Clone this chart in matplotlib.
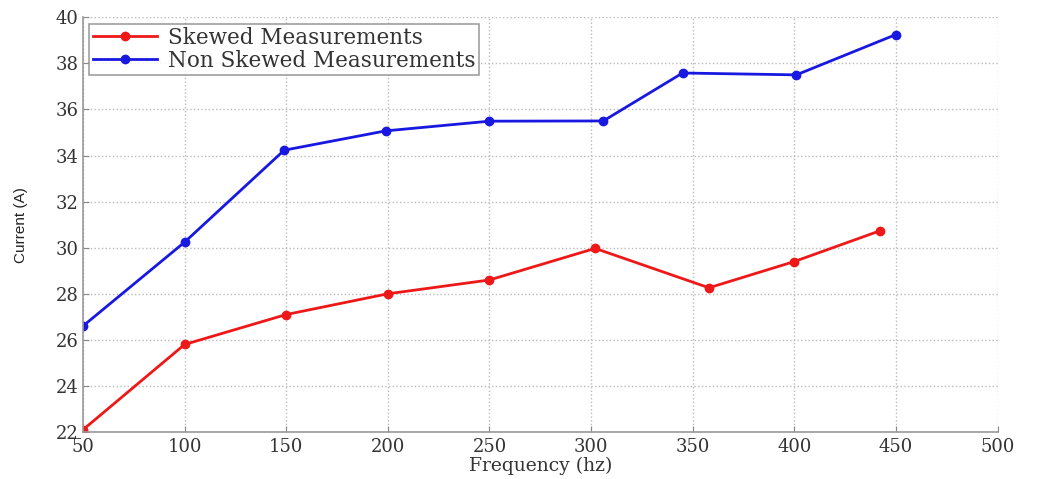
import matplotlib
matplotlib.use('Agg')
import matplotlib.pyplot as plt

# Frequency sweep (hz) and measured current (A)
freq_skewed = [50, 100, 150, 200, 250, 302, 358, 400, 442]
current_skewed = [22.1, 25.8, 27.1, 28.0, 28.6, 29.97, 28.26, 29.4, 30.73]

freq_nonskewed = [50, 100, 149, 199, 250, 306, 345, 401, 450]
current_nonskewed = [26.6, 30.24, 34.23, 35.07, 35.49, 35.5, 37.58, 37.5, 39.25]

plt.rcParams['font.family'] = ['DejaVu Serif']

fig = plt.figure(figsize=(10.37, 4.79), dpi=100)
ax = fig.add_axes([0.080, 0.098, 0.882, 0.866])

ax.plot(freq_skewed, current_skewed, color='#ee1818', lw=2, marker='o', ms=6,
        label='Skewed Measurements')
ax.plot(freq_nonskewed, current_nonskewed, color='#1818e0', lw=2, marker='o', ms=6,
        label='Non Skewed Measurements')

ax.set_xlim(50, 500)
ax.set_ylim(22, 40)
ax.set_xticks(range(50, 501, 50))
ax.set_yticks(range(22, 41, 2))
ax.tick_params(labelsize=13, direction='in', length=4, color='#888888',
               labelcolor='#333333')
ax.tick_params(axis='x', pad=4)
ax.tick_params(axis='y', pad=3)

ax.grid(True, linestyle=':', color='#bbbbbb', lw=1)
for s in ax.spines.values():
    s.set_color('#999999')
    s.set_linewidth(1.2)
ax.spines['top'].set_visible(False)
ax.spines['right'].set_visible(False)

ax.set_xlabel('Frequency (hz)', fontsize=13.5, color='#333333', labelpad=1)
ax.set_ylabel('Current (A)', fontsize=11, family='Liberation Sans',
              color='#222222', labelpad=20)

leg = ax.legend(loc='upper left', fontsize=15.5, frameon=True, fancybox=False,
                handlelength=3.0, borderaxespad=0.3, borderpad=0.15,
                labelspacing=0.05, handletextpad=0.5)
leg.get_frame().set_edgecolor('#888888')
leg.get_frame().set_linewidth(1.2)
for t in leg.get_texts():
    t.set_color('#333333')

fig.savefig('out.png', dpi=100)
